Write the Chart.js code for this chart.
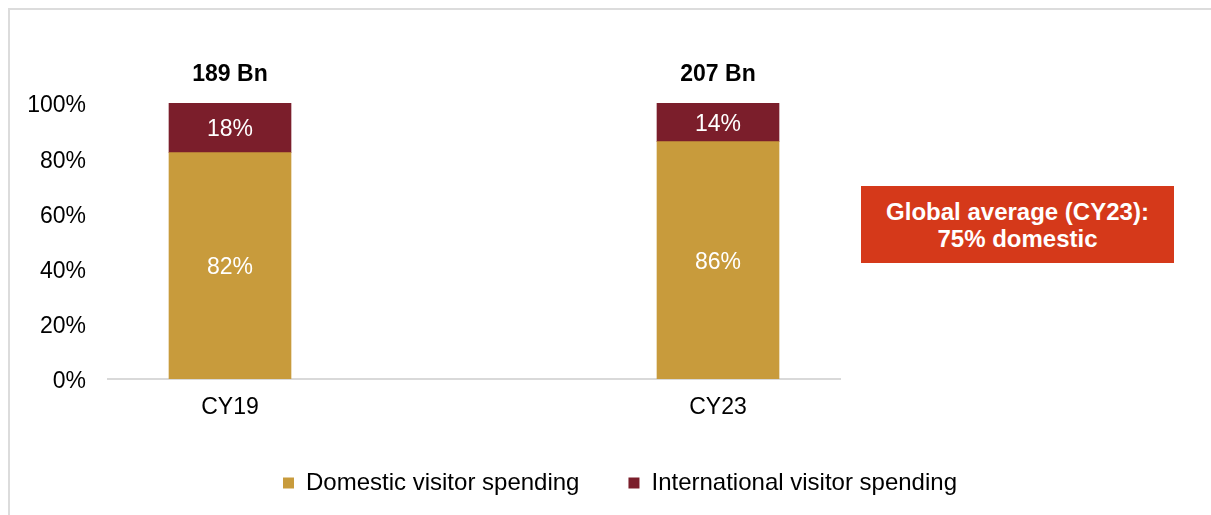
<!DOCTYPE html>
<html>
<head>
<meta charset="utf-8">
<script src="https://cdn.jsdelivr.net/npm/chart.js@4/dist/chart.umd.min.js"></script>
<style>
  html, body { margin: 0; padding: 0; background: #fff; }
  #wrap { position: relative; width: 1211px; height: 515px; overflow: hidden; }
  #frame { position: absolute; left: 8px; top: 8px; right: -4px; bottom: -4px;
           border-left: 2px solid #dcdcdc; border-top: 2px solid #dcdcdc; }
  canvas { position: absolute; left: 0; top: 0; }
  #note { position: absolute; left: 861px; top: 186px; width: 313px; height: 77px;
          background: #D5391A; color: #fff; font: bold 24px "Liberation Sans", Arial, sans-serif;
          display: flex; align-items: center; justify-content: center; text-align: center; line-height: 27px; }
</style>
</head>
<body>
<div id="wrap">
  <div id="frame"></div>
  <canvas id="c" width="1211" height="515"></canvas>
  <div id="note">Global average (CY23):<br>75% domestic</div>
</div>
<script>
const categories = ['CY19', 'CY23'];
const domestic = [82, 86];
const international = [18, 14];
const totals = ['189 Bn', '207 Bn'];
const yTicks = [0, 20, 40, 60, 80, 100];
const seriesNames = ['Domestic visitor spending', 'International visitor spending'];

const FONT = '"Liberation Sans", Arial, sans-serif';

const labelsPlugin = {
  id: 'labelsPlugin',
  afterDatasetsDraw(chart) {
    const ctx = chart.ctx;
    ctx.save();
    ctx.textAlign = 'center';
    ctx.textBaseline = 'middle';
    chart.data.datasets.forEach((ds, di) => {
      const meta = chart.getDatasetMeta(di);
      meta.data.forEach((bar, i) => {
        ctx.fillStyle = '#ffffff';
        ctx.font = '23px ' + FONT;
        ctx.fillText(ds.data[i].y + '%', bar.x, (bar.y + bar.base) / 2 + 2);
      });
    });
    const topMeta = chart.getDatasetMeta(chart.data.datasets.length - 1);
    topMeta.data.forEach((bar, i) => {
      ctx.fillStyle = '#000000';
      ctx.font = 'bold 23px ' + FONT;
      ctx.fillText(totals[i], bar.x, bar.y - 28);
    });
    ctx.restore();
  }
};

new Chart(document.getElementById('c'), {
  type: 'bar',
  data: {
    datasets: [
      { label: seriesNames[0], data: categories.map((c, i) => ({ x: i, y: domestic[i] })),
        backgroundColor: '#C89B3C', barThickness: 122, yAxisID: 'y' },
      { label: seriesNames[1], data: categories.map((c, i) => ({ x: i, y: international[i] })),
        backgroundColor: '#7B1E2B', barThickness: 122, yAxisID: 'y' }
    ]
  },
  options: {
    responsive: false,
    animation: false,
    layout: { padding: { left: 29, right: 0, top: 103, bottom: 10 } },
    scales: {
      x: {
        type: 'linear', stacked: true, min: -0.25, max: 1.25, offset: false,
        grid: { display: false, drawTicks: false },
        border: { display: true, color: '#d9d9d9', width: 2 },
        afterBuildTicks: s => { s.ticks = categories.map((c, i) => ({ value: i })); },
        afterFit: s => { s.height = 43; },
        ticks: { color: '#000', font: { family: FONT, size: 23 }, padding: 15,
                 callback: v => categories[v] }
      },
      y: {
        stacked: true, min: 0, max: 100,
        grid: { display: false, drawTicks: false },
        border: { display: false },
        afterBuildTicks: s => { s.ticks = yTicks.map(v => ({ value: v })); },
        afterFit: s => { s.width = 79; },
        ticks: { color: '#000', font: { family: FONT, size: 23 }, padding: 22, labelOffset: 3,
                 callback: v => v + '%' }
      },
      y2: {
        position: 'right', display: true,
        grid: { display: false, drawTicks: false },
        border: { display: false },
        ticks: { display: false },
        afterFit: s => { s.width = 371; }
      }
    },
    plugins: {
      legend: {
        position: 'bottom',
        labels: { boxWidth: 11, boxHeight: 11, padding: 49, color: '#000',
                  font: { family: FONT, size: 24 } }
      },
      tooltip: { enabled: false }
    }
  },
  plugins: [labelsPlugin]
});
</script>
</body>
</html>
